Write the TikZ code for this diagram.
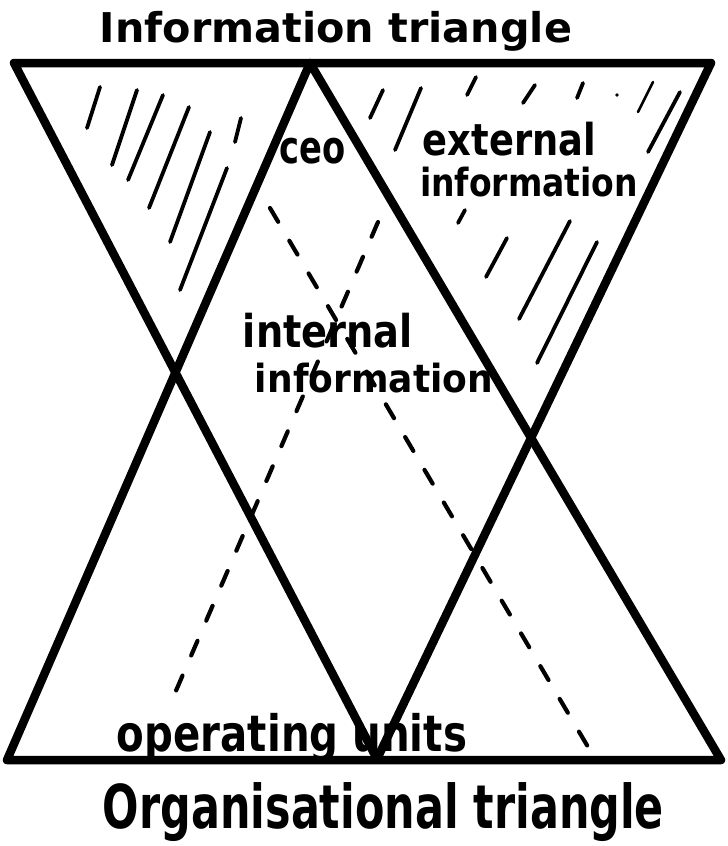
\documentclass[tikz,border=0pt]{standalone}
\usepackage{fontspec}
\setmainfont{DejaVu Sans}
\usepackage{graphicx}
\newcommand{\fitbox}[3]{\resizebox*{#1}{#2}{\bfseries #3}}
\begin{document}
\begin{tikzpicture}[x=1pt,y=-1pt,
  bold/.style={line width=8.5pt, line join=round, line cap=round},
  hatch/.style={line width=3.8pt, line cap=round},
  dashline/.style={line width=4.2pt, line cap=round, dash pattern=on 16pt off 22pt},
  lbl/.style={inner sep=0pt, outer sep=0pt}]
\useasboundingbox (0,0) rectangle (728,846);
\fill[white] (0,0) rectangle (728,846);
% information triangle (inverted)
\coordinate (iL) at (14,63);
\coordinate (iR) at (711,63);
\coordinate (iA) at (377,759);
% organisational triangle (upright)
\coordinate (oA) at (310,63);
\coordinate (oL) at (7,760);
\coordinate (oR) at (721,760);
\draw[bold] (iL) -- (iR) -- (iA) -- cycle;
\draw[bold] (oA) -- (oR) -- (oL) -- cycle;
% dashed inner lines
\coordinate (d1a) at (270,208); \coordinate (d1b) at (591,752);
\coordinate (d2a) at (378,222); \coordinate (d2b) at (172,700);
\draw[dashline] (d1a) -- (d1b);
\draw[dashline] (d2a) -- (d2b);
% hatching left
\foreach \a/\b/\c/\d in {100/87/87/128, 137/90/112/165, 163/95/128/180, 189/107/149/208,
  210/132/170/242, 241/118/235/142, 227/168/180/290}
  \draw[hatch] (\a,\b) -- (\c,\d);
% hatching right
\foreach \a/\b/\c/\d in {383/90/370/118, 421/88/395/150, 476/77/467/95, 535/85/523/103,
  583/83/577/98, 680/92/648/152, 465/210/458/223, 507/238/486/277, 570/221/519/319, 597/242/537/363}
  \draw[hatch] (\a,\b) -- (\c,\d);
\draw[hatch, line width=2.6pt] (653,82) -- (638,112);
\fill (617,95) circle (1.8pt);
% labels
\node[lbl] (title) at (336,31) {\fitbox{472pt}{40pt}{Information triangle}};
\node[lbl] (ceo) at (313,151) {\fitbox{66pt}{26pt}{ceo}};
\node[lbl] (ext1) at (509.5,139) {\fitbox{173pt}{34pt}{external}};
\node[lbl] (ext2) at (529,182) {\fitbox{218pt}{30pt}{information}};
\node[lbl] (int1) at (328,330.5) {\fitbox{170pt}{35pt}{internal}};
\node[lbl] (int2) at (374,378) {\fitbox{238pt}{30pt}{information}};
\node[lbl] (ops) at (292,737.5) {\fitbox{350pt}{49pt}{operating units}};
\node[lbl] (org) at (383.5,812.5) {\fitbox{561pt}{59pt}{Organisational triangle}};
\end{tikzpicture}
\end{document}
